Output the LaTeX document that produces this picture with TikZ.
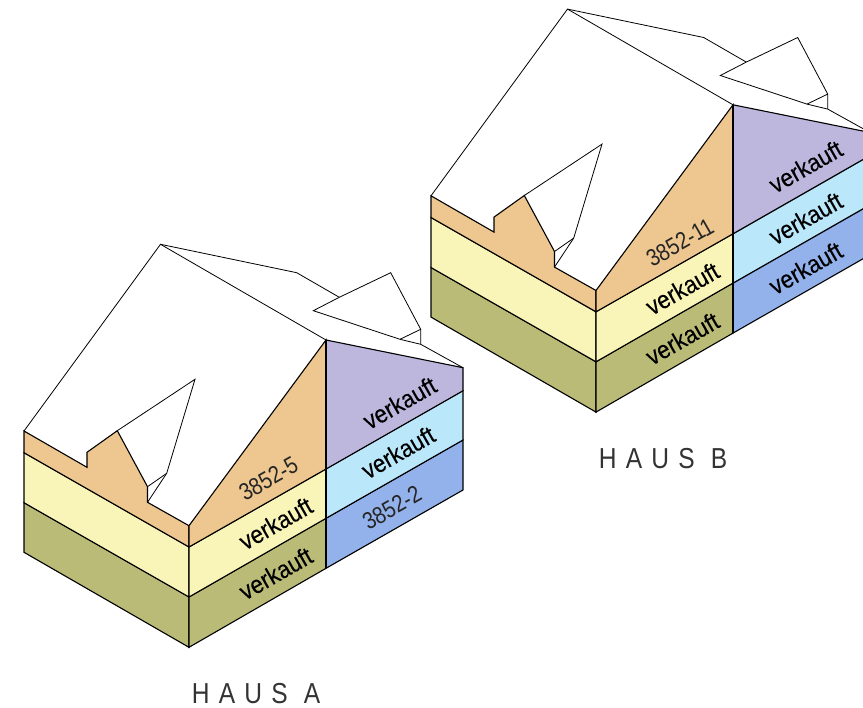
\documentclass[tikz,border=0pt]{standalone}
\usepackage{fontspec}
\setmainfont{Liberation Sans}
\newfontfamily\soldbase[FakeStretch=0.9,RawFeature={embolden=0.15}]{Liberation Sans}
\newfontfamily\unitbase[FakeStretch=0.85]{Liberation Sans}
\newfontfamily\namefont[LetterSpace=32,FakeStretch=0.85]{Liberation Sans}
\definecolor{tan}{HTML}{EDC78F}
\definecolor{yel}{HTML}{F9F4B8}
\definecolor{oli}{HTML}{BBBB78}
\definecolor{pur}{HTML}{BDB7DD}
\definecolor{lbl}{HTML}{BBE7FB}
\definecolor{blu}{HTML}{93B1EA}
\tikzset{
  thin line/.style={draw=black,line width=0.8bp,line join=miter},
  band/.style={draw=black,line width=1.1bp,line join=miter},
  unit label/.style={font=\unitbase\fontsize{24}{24}\selectfont,inner sep=0pt,rotate=29.7,anchor=base,text=black!85},
  sold label/.style={font=\soldbase\fontsize{25}{25}\selectfont,inner sep=0pt,rotate=29.7,anchor=base,text=black},
  house name/.style={font=\namefont\fontsize{29}{29}\selectfont,inner sep=0pt,anchor=base,text=black!80}
}
\newcommand{\hausbody}{%
  \path[fill=white] (24,431) -- (160.5,244.3) -- (296.7,272.7) -- (339.3,297.3) -- (390.7,272.7) -- (420.7,329.3) -- (420.7,344.3) -- (463,367.7) -- (326,340) -- (189,525.7) -- cycle;
  \filldraw[band,fill=oli] (24,502.7) -- (189,597) -- (189,647.3) -- (24,552.3) -- cycle;
  \filldraw[band,fill=yel] (24,452.7) -- (189,547) -- (189,597) -- (24,502.7) -- cycle;
  \filldraw[band,fill=tan] (24,431) -- (87,467.3) -- (87,452.3) -- (117.3,430.7) -- (147.5,486.7) -- (147.5,502.3) -- (189,525.7) -- (189,547) -- (24,452.7) -- cycle;
  \filldraw[band,fill=oli] (189,597) -- (326,518.3) -- (326,568.3) -- (189,647.3) -- cycle;
  \filldraw[band,fill=yel] (189,547) -- (326,469) -- (326,518.3) -- (189,597) -- cycle;
  \filldraw[band,fill=tan] (189,525.7) -- (326,340) -- (326,469) -- (189,547) -- cycle;
  \filldraw[band,fill=blu] (326,518.3) -- (463,440) -- (463,490) -- (326,568.3) -- cycle;
  \filldraw[band,fill=lbl] (326,469) -- (463,390.7) -- (463,440) -- (326,518.3) -- cycle;
  \filldraw[band,fill=pur] (326,340) -- (463,367.7) -- (463,390.7) -- (326,469) -- cycle;
  \draw[band,line width=1.5bp] (326,340) -- (326,568.3);
  \draw[thin line] (24,431) -- (160.5,244.3) -- (326,340);
  \draw[thin line] (160.5,244.3) -- (296.7,272.7) -- (339.3,297.3);
  \draw[thin line] (339.3,297.3) -- (390.7,272.7) -- (420.7,329.3) -- (420.7,344.3) -- (463,367.7);
  \draw[thin line] (339.3,297.3) -- (313.3,310.7) -- (400,339.3) -- (420.7,344.3);
  \draw[thin line] (400,339.3) -- (420.7,329.3);
  \draw[thin line] (117.3,430.7) -- (195,379.3) -- (166.7,473.3) -- (147.5,486.7);
  \draw[thin line] (166.7,473.3) -- (147.5,502.3);
}
\begin{document}
\begin{tikzpicture}[x=1bp,y=-1bp]
\useasboundingbox (0,0) rectangle (863,708);
\clip (0,0) rectangle (863,708);
\begin{scope}
  \hausbody
  \node[unit label] (a5) at (272.5,486) {3852-5};
  \node[sold label] (a4) at (280,531) {verkauft};
  \node[sold label] (a3) at (280,581) {verkauft};
  \node[sold label] (a8) at (404,410.5) {verkauft};
  \node[sold label] (a7) at (402.5,460) {verkauft};
  \node[unit label] (a2) at (396,515) {3852-2};
\end{scope}
\begin{scope}[shift={(407,-235.2)}]
  \hausbody
  \node[unit label] (b5) at (277,484.7) {3852-11};
  \node[sold label] (b4) at (279.7,531.4) {verkauft};
  \node[sold label] (b3) at (279.7,581.4) {verkauft};
  \node[sold label] (b8) at (403,409.4) {verkauft};
  \node[sold label] (b7) at (403,461.2) {verkauft};
  \node[sold label] (b2) at (403,510.9) {verkauft};
\end{scope}
\node[house name] (ha) at (256,703.5) {HAUS A};
\node[house name] (hb) at (663,468.3) {HAUS B};
\end{tikzpicture}
\end{document}
